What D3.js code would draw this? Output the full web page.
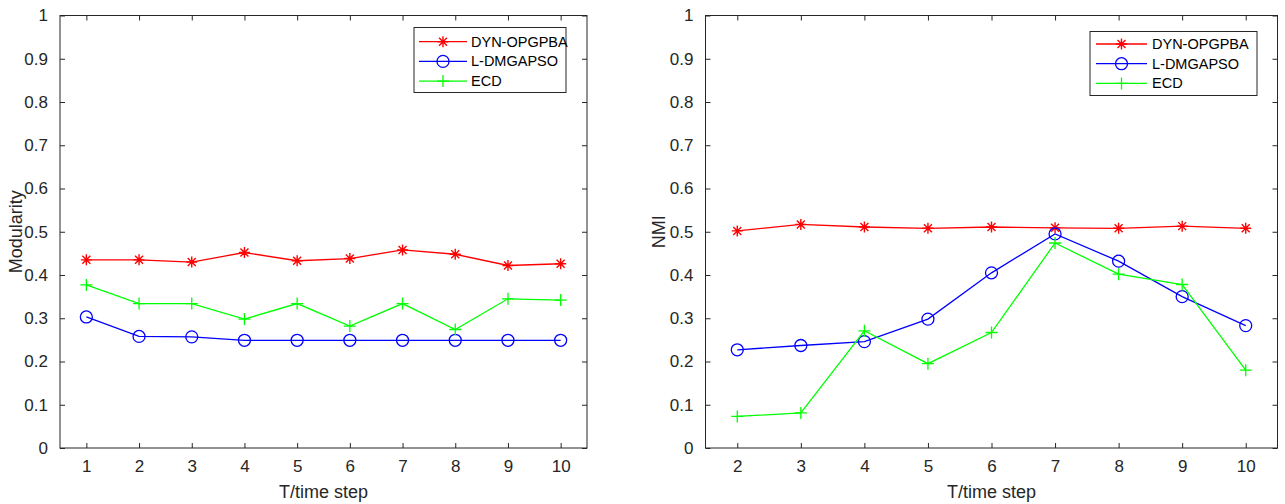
<!DOCTYPE html>
<html>
<head>
<meta charset="utf-8">
<script src="https://cdn.jsdelivr.net/npm/d3@7"></script>
<style>
  body { margin: 0; background: #fff; }
  svg { display: block; font-family: "Liberation Sans", Arial, sans-serif; }
</style>
</head>
<body>
<svg id="chart" width="1285" height="504"></svg>
<script>
// ---- data ----
var stepsLeft = [1, 2, 3, 4, 5, 6, 7, 8, 9, 10];
var stepsRight = [2, 3, 4, 5, 6, 7, 8, 9, 10];
var seriesNames = ["DYN-OPGPBA", "L-DMGAPSO", "ECD"];

// modularity (left)
var modDyn = [0.435, 0.435, 0.430, 0.452, 0.433, 0.438, 0.458, 0.448, 0.422, 0.426];
var modLdm = [0.303, 0.258, 0.257, 0.249, 0.249, 0.249, 0.249, 0.249, 0.249, 0.249];
var modEcd = [0.377, 0.334, 0.334, 0.298, 0.334, 0.282, 0.334, 0.274, 0.345, 0.342];

// NMI (right)
var nmiDyn = [0.502, 0.517, 0.511, 0.508, 0.511, 0.509, 0.508, 0.513, 0.508];
var nmiLdm = [0.227, 0.237, 0.246, 0.298, 0.405, 0.495, 0.432, 0.350, 0.283];
var nmiEcd = [0.073, 0.081, 0.271, 0.195, 0.267, 0.474, 0.402, 0.378, 0.180];

var yTicks = [0, 0.1, 0.2, 0.3, 0.4, 0.5, 0.6, 0.7, 0.8, 0.9, 1];

var colors = ["#ff0000", "#0000ff", "#00ff00"];
var markers = ["star", "circle", "plus"];
var axisColor = "#262626";

var svg = d3.select("#chart");

function drawMarker(g, type, x, y, color) {
  if (type == "circle") {
    g.append("circle").attr("cx", x).attr("cy", y).attr("r", 6)
      .attr("fill", "none").attr("stroke", color).attr("stroke-width", 1.3);
  } else if (type == "plus") {
    g.append("path")
      .attr("d", "M" + (x - 6) + "," + y + "H" + (x + 6) + "M" + x + "," + (y - 6) + "V" + (y + 6))
      .attr("stroke", color).attr("stroke-width", 1.3);
  } else {
    var s = 5.5, d = 4;
    g.append("path")
      .attr("d", "M" + (x - s) + "," + y + "H" + (x + s) + "M" + x + "," + (y - s) + "V" + (y + s) +
        "M" + (x - d) + "," + (y - d) + "L" + (x + d) + "," + (y + d) +
        "M" + (x - d) + "," + (y + d) + "L" + (x + d) + "," + (y - d))
      .attr("stroke", color).attr("stroke-width", 1.4);
  }
}

function drawPanel(p) {
  var x = d3.scaleLinear().domain(p.xDomain).range([p.left, p.right]);
  var y = d3.scaleLinear().domain([0, 1]).range([p.bottom, p.top]);
  var g = svg.append("g");
  var tickLen = 5;

  // frame
  g.append("rect")
    .attr("x", p.left).attr("y", p.top)
    .attr("width", p.right - p.left).attr("height", p.bottom - p.top)
    .attr("fill", "none").attr("stroke", axisColor).attr("stroke-width", 1);

  // bottom axis (inward ticks) + mirrored top ticks
  var xAxis = d3.axisBottom(x).tickValues(p.steps).tickSize(-tickLen).tickFormat(d3.format("d"));
  var gx = g.append("g").attr("transform", "translate(0," + p.bottom + ")").call(xAxis);
  var xTop = d3.axisTop(x).tickValues(p.steps).tickSize(-tickLen).tickFormat("");
  var gxt = g.append("g").attr("transform", "translate(0," + p.top + ")").call(xTop);

  var yAxis = d3.axisLeft(y).tickValues(yTicks).tickSize(-tickLen).tickPadding(12).tickFormat(function(d) { return d3.format("")(d); });
  var gy = g.append("g").attr("transform", "translate(" + p.left + ",0)").call(yAxis);
  var yRight = d3.axisRight(y).tickValues(yTicks).tickSize(-tickLen).tickFormat("");
  var gyr = g.append("g").attr("transform", "translate(" + p.right + ",0)").call(yRight);

  [gx, gxt, gy, gyr].forEach(function(a) {
    a.select(".domain").remove();
    a.selectAll("line").attr("stroke", axisColor);
    a.selectAll("text").attr("fill", axisColor).style("font-size", "17px")
      .style("font-family", "'Liberation Sans', Arial, sans-serif");
  });
  gx.selectAll("text").attr("dy", "0.71em").attr("y", 12);

  // axis titles
  g.append("text")
    .attr("x", (p.left + p.right) / 2).attr("y", 498)
    .attr("text-anchor", "middle").attr("fill", axisColor)
    .style("font-size", "18px").text("T/time step");
  g.append("text")
    .attr("transform", "translate(" + (p.left - p.yLabelOff) + "," + ((p.top + p.bottom) / 2) + ")rotate(-90)")
    .attr("text-anchor", "middle").attr("fill", axisColor)
    .style("font-size", "18px").text(p.yLabel);

  // lines and markers
  p.series.forEach(function(vals, i) {
    var pts = vals.map(function(v, j) { return [p.steps[j], v]; });
    var line = d3.line().x(function(d) { return x(d[0]); }).y(function(d) { return y(d[1]); });
    g.append("path").datum(pts)
      .attr("d", line).attr("fill", "none")
      .attr("stroke", colors[i]).attr("stroke-width", 1.3);
    var mg = g.append("g");
    pts.forEach(function(d) { drawMarker(mg, markers[i], x(d[0]), y(d[1]), colors[i]); });
  });

  // legend
  var L = p.legend;
  var lg = g.append("g");
  lg.append("rect")
    .attr("x", L.x).attr("y", L.y)
    .attr("width", L.w).attr("height", L.h)
    .attr("fill", "#fff").attr("stroke", axisColor).attr("stroke-width", 1);
  seriesNames.forEach(function(name, i) {
    var ry = L.y + L.row0 + i * 19.7;
    var lx0 = L.x + L.l0, lx1 = L.x + L.l1;
    lg.append("line").attr("x1", lx0).attr("x2", lx1).attr("y1", ry).attr("y2", ry)
      .attr("stroke", colors[i]).attr("stroke-width", 1.3);
    drawMarker(lg, markers[i], (lx0 + lx1) / 2, ry, colors[i]);
    lg.append("text").attr("x", L.x + L.tx).attr("y", ry).attr("dy", "0.35em")
      .attr("fill", "#000").style("font-size", "14.5px").text(name);
  });
}

drawPanel({
  left: 60, right: 587, top: 15.5, bottom: 448,
  xDomain: [0.5, 10.5], steps: stepsLeft, yLabel: "Modularity", yLabelOff: 38,
  series: [modDyn, modLdm, modEcd],
  legend: { x: 414, y: 27.5, w: 152, h: 65, row0: 14.2, l0: 5, l1: 53, tx: 57 }
});

drawPanel({
  left: 705.5, right: 1277.5, top: 15.5, bottom: 448,
  xDomain: [1.5, 10.5], steps: stepsRight, yLabel: "NMI", yLabelOff: 41,
  series: [nmiDyn, nmiLdm, nmiEcd],
  legend: { x: 1090, y: 31.5, w: 167, h: 64, row0: 12.5, l0: 6, l1: 57, tx: 62 }
});
</script>
</body>
</html>
